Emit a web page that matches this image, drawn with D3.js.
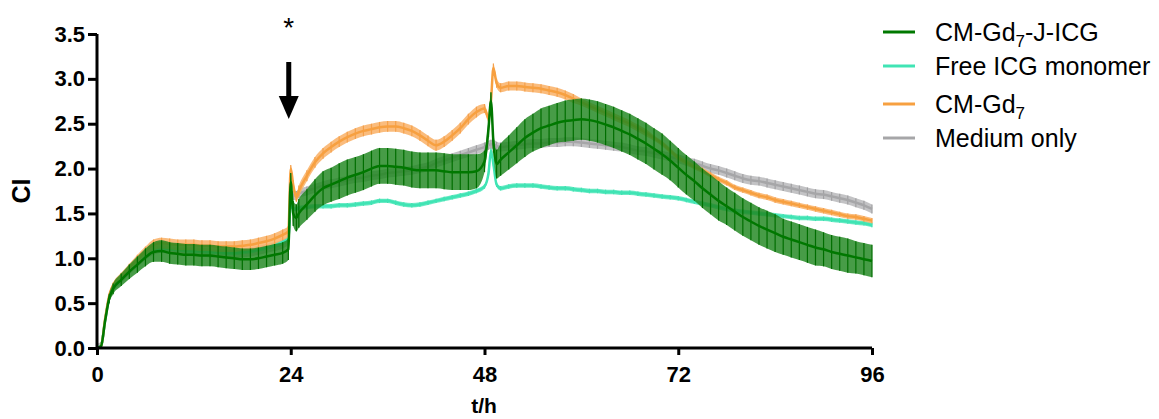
<!DOCTYPE html>
<html><head><meta charset="utf-8">
<script src="https://cdn.jsdelivr.net/npm/d3@7"></script>
<style>body{margin:0;background:#fff}svg{display:block}</style>
</head><body>
<svg id="c" width="1159" height="419"></svg>
<script>
const times = [0,0.5,1,1.5,2,3,4,5,6,7,8,9,10,11,12,13,14,15,16,17,18,19,20,21,22,23,23.7,24,24.3,24.7,25,26,27,28,29,30,31,32,33,34,35,36,37,38,39,40,41,42,43,44,45,46,47,48,48.5,48.8,49.1,49.5,50,51,52,53,54,55,56,57,58,59,60,61,62,63,64,65,66,67,68,69,70,71,72,73,74,75,76,77,78,79,80,81,82,83,84,85,86,87,88,89,90,91,92,93,94,95,96];

const greenMean = [0,0.02,0.3,0.55,0.66,0.76,0.85,0.93,1.01,1.07,1.08,1.06,1.05,1.04,1.04,1.03,1.03,1.02,1.01,1.0,0.99,0.99,1.0,1.02,1.04,1.06,1.1,1.85,1.5,1.45,1.5,1.6,1.7,1.78,1.82,1.86,1.9,1.93,1.96,2.0,2.03,2.03,2.02,2.01,1.99,1.98,1.98,1.98,1.97,1.96,1.96,1.96,1.97,2.08,2.45,2.75,2.3,2.05,2.1,2.18,2.26,2.34,2.4,2.45,2.48,2.51,2.53,2.54,2.55,2.54,2.52,2.49,2.46,2.42,2.38,2.33,2.28,2.22,2.16,2.09,2.01,1.93,1.86,1.78,1.71,1.64,1.58,1.52,1.46,1.41,1.36,1.32,1.28,1.24,1.21,1.18,1.15,1.12,1.1,1.07,1.05,1.03,1.01,0.99,0.97];
const greenSD = [0,0.01,0.03,0.05,0.06,0.07,0.08,0.09,0.1,0.11,0.12,0.12,0.12,0.12,0.12,0.12,0.12,0.12,0.12,0.12,0.12,0.12,0.12,0.12,0.12,0.12,0.12,0.1,0.14,0.15,0.16,0.17,0.18,0.19,0.19,0.2,0.2,0.2,0.2,0.2,0.2,0.2,0.2,0.2,0.2,0.2,0.2,0.2,0.2,0.2,0.2,0.2,0.19,0.12,0.1,0.1,0.12,0.16,0.18,0.19,0.2,0.21,0.21,0.22,0.22,0.22,0.23,0.23,0.23,0.23,0.23,0.23,0.23,0.23,0.23,0.23,0.23,0.23,0.23,0.22,0.22,0.22,0.22,0.22,0.22,0.22,0.21,0.21,0.21,0.21,0.21,0.21,0.21,0.2,0.2,0.2,0.2,0.2,0.19,0.19,0.19,0.19,0.18,0.18,0.18];

const orangeMean = [0,0.02,0.32,0.58,0.7,0.8,0.9,0.99,1.08,1.15,1.17,1.16,1.15,1.15,1.15,1.14,1.14,1.13,1.13,1.13,1.14,1.15,1.17,1.19,1.22,1.26,1.3,2.0,1.82,1.68,1.75,1.92,2.07,2.17,2.24,2.3,2.35,2.39,2.42,2.44,2.46,2.47,2.47,2.45,2.42,2.37,2.31,2.26,2.3,2.37,2.45,2.55,2.63,2.67,2.56,2.75,3.12,2.95,2.9,2.92,2.92,2.91,2.9,2.89,2.87,2.85,2.82,2.78,2.74,2.7,2.66,2.62,2.58,2.54,2.5,2.45,2.4,2.34,2.28,2.2,2.12,2.07,2.02,1.98,1.93,1.88,1.84,1.79,1.76,1.73,1.7,1.68,1.65,1.63,1.61,1.59,1.57,1.55,1.53,1.51,1.49,1.47,1.46,1.44,1.42];
const orangeSD = [0,0.01,0.02,0.03,0.03,0.04,0.04,0.05,0.05,0.06,0.06,0.06,0.06,0.06,0.06,0.06,0.06,0.06,0.06,0.06,0.06,0.06,0.06,0.06,0.06,0.06,0.06,0.04,0.05,0.05,0.06,0.06,0.06,0.06,0.06,0.06,0.06,0.06,0.06,0.06,0.06,0.06,0.06,0.06,0.06,0.06,0.06,0.06,0.06,0.06,0.06,0.06,0.06,0.05,0.04,0.04,0.05,0.05,0.05,0.05,0.05,0.05,0.05,0.05,0.05,0.05,0.05,0.05,0.04,0.04,0.04,0.04,0.04,0.04,0.04,0.04,0.04,0.03,0.03,0.03,0.03,0.03,0.03,0.03,0.03,0.03,0.03,0.03,0.03,0.03,0.03,0.03,0.03,0.03,0.03,0.03,0.03,0.03,0.03,0.03,0.03,0.03,0.03,0.03,0.03];

const aquaMean = [0,0.02,0.31,0.56,0.68,0.78,0.88,0.96,1.04,1.1,1.12,1.11,1.1,1.09,1.08,1.08,1.07,1.07,1.06,1.06,1.07,1.08,1.1,1.12,1.15,1.18,1.22,1.6,1.55,1.55,1.56,1.57,1.58,1.58,1.58,1.59,1.59,1.6,1.61,1.62,1.64,1.64,1.62,1.6,1.59,1.6,1.62,1.64,1.66,1.68,1.7,1.72,1.75,1.8,1.95,2.2,2.05,1.82,1.78,1.8,1.81,1.81,1.81,1.8,1.79,1.78,1.78,1.77,1.76,1.75,1.75,1.74,1.74,1.73,1.73,1.72,1.71,1.7,1.69,1.68,1.67,1.65,1.63,1.61,1.59,1.57,1.55,1.53,1.52,1.51,1.5,1.49,1.48,1.47,1.46,1.45,1.45,1.44,1.44,1.43,1.42,1.41,1.4,1.39,1.37];
const aquaSD = times.map(() => 0.025);

const grayMean = [0,0.02,0.3,0.55,0.67,0.77,0.87,0.95,1.03,1.09,1.11,1.1,1.09,1.08,1.07,1.07,1.06,1.06,1.05,1.05,1.06,1.07,1.09,1.11,1.13,1.16,1.2,1.68,1.7,1.7,1.72,1.75,1.78,1.81,1.83,1.85,1.87,1.89,1.9,1.92,1.93,1.95,1.96,1.97,1.98,2.0,2.02,2.06,2.09,2.12,2.15,2.18,2.21,2.24,2.26,2.27,2.27,2.25,2.24,2.25,2.26,2.27,2.28,2.28,2.29,2.29,2.3,2.3,2.29,2.28,2.27,2.26,2.25,2.24,2.22,2.2,2.19,2.17,2.15,2.13,2.11,2.08,2.06,2.03,2.0,1.98,1.95,1.92,1.89,1.87,1.86,1.84,1.82,1.8,1.78,1.76,1.74,1.72,1.71,1.69,1.67,1.65,1.62,1.59,1.55];
const graySD = times.map(() => 0.05);

const legendLabels = ["CM-Gd|7|-J-ICG", "Free ICG monomer", "CM-Gd|7", "Medium only"];
const xTicks = [0, 24, 48, 72, 96];
const yTicks = [0, 0.5, 1.0, 1.5, 2.0, 2.5, 3.0, 3.5];

const svg = d3.select("#c");
const x = d3.scaleLinear().domain([0, 96]).range([97, 872]);
const y = d3.scaleLinear().domain([0, 3.5]).range([348, 34]);

const series = [
  {mean: grayMean, sd: graySD, line: "#a6a6a8", bar: "#a0a0a2", band: "#b4b4b6", bandOp: 0.8, w: 2.5},
  {mean: aquaMean, sd: aquaSD, line: "#40e4b4", bar: "#40e0b0", band: "#5ce8bf", bandOp: 0.9, w: 2.5},
  {mean: orangeMean, sd: orangeSD, line: "#f7a040", bar: "#f5a04a", band: "#f9b066", bandOp: 0.85, w: 2.5},
  {mean: greenMean, sd: greenSD, line: "#007800", bar: "#006e00", band: "#1f861f", bandOp: 0.82, w: 2.5}
];

const curve = d3.curveMonotoneX;
series.forEach(s => {
  const pts = times.map((t, i) => ({t, m: s.mean[i], sd: s.sd[i]}));
  const g = svg.append("g");
  g.append("path").datum(pts)
    .attr("d", d3.area().curve(curve).x(d => x(d.t)).y0(d => y(Math.max(0, d.m - d.sd))).y1(d => y(d.m + d.sd)))
    .attr("fill", s.band).attr("fill-opacity", s.bandOp);
  g.selectAll("line.eb").data(pts).join("line")
    .attr("x1", d => x(d.t)).attr("x2", d => x(d.t))
    .attr("y1", d => y(Math.max(0, d.m - d.sd))).attr("y2", d => y(d.m + d.sd))
    .attr("stroke", s.bar).attr("stroke-width", 1.2);
  g.append("path").datum(pts)
    .attr("d", d3.line().curve(curve).x(d => x(d.t)).y(d => y(d.m)))
    .attr("fill", "none").attr("stroke", s.line).attr("stroke-width", s.w);
});

// axes
const font = "'Liberation Sans', Arial, sans-serif";
const xAxis = svg.append("g").attr("transform", "translate(0,348)")
  .call(d3.axisBottom(x).tickValues(xTicks).tickSize(7).tickPadding(11).tickFormat(d3.format("d")));
const yAxis = svg.append("g").attr("transform", "translate(97,0)")
  .call(d3.axisLeft(y).tickValues(yTicks).tickSize(9).tickPadding(3).tickFormat(d3.format(".1f")));
[xAxis, yAxis].forEach(a => {
  a.select(".domain").attr("stroke", "#000").attr("stroke-width", 3);
  a.selectAll(".tick line").attr("stroke", "#000").attr("stroke-width", 3);
  a.selectAll(".tick text").attr("fill", "#000").style("font-family", font)
    .style("font-weight", "bold");
});
xAxis.selectAll(".tick text").style("font-size", "22px");
yAxis.selectAll(".tick text").style("font-size", "22px");
xAxis.select(".domain").attr("d", "M97,0H872");
yAxis.select(".domain").attr("d", "M0,34V348");

svg.append("text").attr("x", 484).attr("y", 413).attr("text-anchor", "middle")
  .style("font-family", font).style("font-size", "21px").style("font-weight", "bold").text("t/h");
svg.append("text").attr("transform", "translate(30,191) rotate(-90)").attr("text-anchor", "middle")
  .style("font-family", font).style("font-size", "25px").style("font-weight", "bold").text("CI");

// arrow and asterisk at t=24
const ax = x(24) - 2;
svg.append("rect").attr("x", ax - 2.5).attr("y", 62).attr("width", 5).attr("height", 36).attr("fill", "#000");
svg.append("path").attr("d", `M${ax - 10},96 L${ax + 10},96 L${ax},119 Z`).attr("fill", "#000");
svg.append("text").attr("x", ax).attr("y", 37).attr("text-anchor", "middle")
  .style("font-family", font).style("font-size", "28px").text("*");

// legend
const legColors = ["#007800", "#40e4b4", "#f7a040", "#a6a6a8"];
const legY = [32, 66, 104, 138];
legendLabels.forEach((lab, i) => {
  svg.append("line").attr("x1", 883).attr("x2", 915).attr("y1", legY[i]).attr("y2", legY[i])
    .attr("stroke", legColors[i]).attr("stroke-width", 3);
  const t = svg.append("text").attr("x", 935).attr("y", legY[i] + 9)
    .style("font-family", font).style("font-size", "25px").attr("fill", "#000");
  const parts = lab.split("|");
  parts.forEach((p, j) => {
    if (j === 1) {
      t.append("tspan").attr("dy", 6).style("font-size", "17px").text(p);
    } else if (j === 2) {
      t.append("tspan").attr("dy", -6).text(p);
    } else {
      t.append("tspan").text(p);
    }
  });
});
</script>
</body></html>
